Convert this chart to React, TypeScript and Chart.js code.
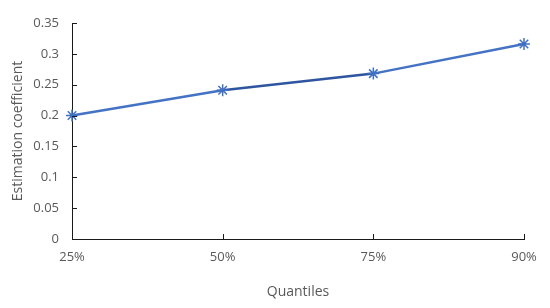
import React, { useEffect, useRef } from "react";
import { Chart, registerables } from "chart.js";

Chart.register(...registerables);

const categories = ["25%", "50%", "75%", "90%"];
const coefficients = [0.2, 0.241, 0.268, 0.316];
const yMin = 0;
const yMax = 0.35;
const yStep = 0.05;
const xTitle = "Quantiles";
const yTitle = "Estimation coefficient";

const FONT = "'Open Sans', 'Noto Sans', sans-serif";
const TEXT = "#595959";
const AXIS = "#1a1a1a";

const insideTicks = {
  id: "insideTicks",
  afterDraw(chart: any) {
    const { ctx, chartArea, scales } = chart;
    const x = scales.x;
    const y = scales.y;
    ctx.save();
    ctx.strokeStyle = AXIS;
    ctx.lineWidth = 1;
    ctx.beginPath();
    y.ticks.forEach((_t: any, i: number) => {
      const py = Math.round(y.getPixelForTick(i)) + 0.5;
      ctx.moveTo(chartArea.left, py);
      ctx.lineTo(chartArea.left + 5, py);
    });
    x.ticks.forEach((_t: any, i: number) => {
      const px = Math.round(x.getPixelForTick(i)) + 0.5;
      ctx.moveTo(px, chartArea.bottom);
      ctx.lineTo(px, chartArea.bottom - 5);
    });
    ctx.stroke();
    ctx.restore();
  },
};

export default function App() {
  const ref = useRef<HTMLCanvasElement>(null);
  useEffect(() => {
    document.body.style.margin = "0";
    const chart = new Chart(ref.current!, {
      type: "line",
      data: {
        labels: categories,
        datasets: [
          {
            data: coefficients,
            borderColor: "#4472C4",
            borderWidth: 2.5,
            pointStyle: "star",
            pointRadius: 6,
            pointBorderWidth: 1.5,
            pointBorderColor: "#4170C2",
            pointBackgroundColor: "#4170C2",
            segment: {
              borderColor: (c: any) => (c.p0DataIndex === 1 ? "#2F55A0" : "#4472C4"),
            },
            tension: 0,
          },
        ],
      },
      options: {
        animation: false,
        responsive: false,
        layout: { padding: { left: 0, right: 26, top: 23, bottom: 0 } },
        plugins: { legend: { display: false }, tooltip: { enabled: false } },
        scales: {
          x: {
            offset: false,
            grid: { display: false, drawTicks: false },
            border: { display: true, color: AXIS, width: 1 },
            ticks: { color: TEXT, font: { family: FONT, size: 13 }, padding: 10, maxRotation: 0 },
            title: {
              display: true,
              text: xTitle,
              color: TEXT,
              font: { family: FONT, size: 14 },
              padding: { top: 8, bottom: 8 },
            },
            afterFit: (s: any) => {
              s.height = 69;
            },
          },
          y: {
            min: yMin,
            max: yMax,
            grid: { display: false, drawTicks: false },
            border: { display: true, color: AXIS, width: 1 },
            ticks: {
              stepSize: yStep,
              color: TEXT,
              font: { family: FONT, size: 13 },
              padding: 13,
              callback: (v: any) => String(Number(Number(v).toFixed(2))),
            },
            title: {
              display: true,
              text: yTitle,
              color: TEXT,
              font: { family: FONT, size: 14 },
              padding: { top: 10, bottom: 0 },
            },
            afterFit: (s: any) => {
              s.width = 72;
            },
          },
        },
      },
      plugins: [insideTicks],
    });
    return () => chart.destroy();
  }, []);
  return (
    <div style={{ width: 550, height: 308 }}>
      <canvas ref={ref} width={550} height={308} />
    </div>
  );
}
